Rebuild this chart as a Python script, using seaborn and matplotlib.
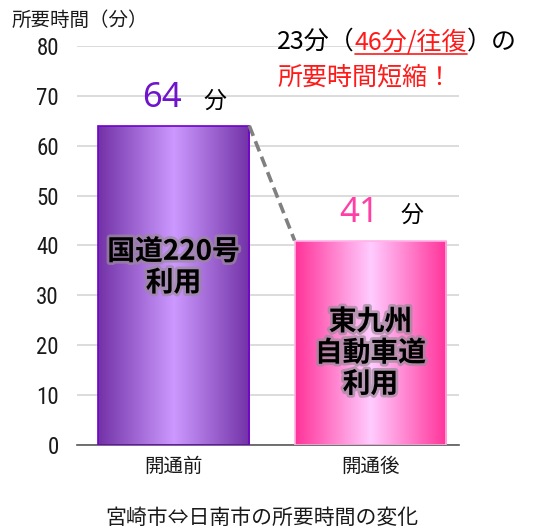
import numpy as np
import seaborn as sns
import matplotlib.pyplot as plt
import matplotlib.patheffects as pe
from matplotlib.colors import LinearSegmentedColormap

# chart data
categories = ["開通前", "開通後"]
minutes = [64, 41]
bar_notes = ["国道220号\n利用", "東九州\n自動車道\n利用"]
note_levels = [35.6, 18.4]
y_ticks = [0, 10, 20, 30, 40, 50, 60, 70, 80]

# styling
edge_dark = ["#7232a6", "#ff3399"]
centre_light = ["#cc99ff", "#ffccff"]
bar_edges = ["#7000cc", "#ffb3e6"]
value_colors = ["#7014cc", "#ff3fa6"]

sns.set_theme(style="white")
plt.rcParams["font.family"] = ["Noto Sans CJK JP", "DejaVu Sans"]

W, H = 534, 532
fig = plt.figure(figsize=(W / 100, H / 100), dpi=100)
ax = fig.add_axes([77 / W, 1 - 445 / H, (459 - 77) / W, (445 - 46) / H])

sns.barplot(x=categories, y=minutes, width=0.77, ax=ax, color="white")

# gradient fill inside each bar
for i, bar in enumerate(ax.patches):
    x0, w, h = bar.get_x(), bar.get_width(), bar.get_height()
    cmap = LinearSegmentedColormap.from_list(
        "g%d" % i, [edge_dark[i], centre_light[i], edge_dark[i]])
    grad = np.linspace(0, 1, 256).reshape(1, -1)
    im = ax.imshow(grad, cmap=cmap, aspect="auto", extent=[x0, x0 + w, 0, h],
                   zorder=2)
    im.set_clip_path(bar)
    bar.set_facecolor("none")
    bar.set_edgecolor(bar_edges[i])
    bar.set_linewidth(1.2)
    bar.set_zorder(3)

ax.set_xlim(-0.49, 1.45)
ax.set_ylim(0, 80)

# grid / spines
ax.set_yticks(y_ticks)
ax.yaxis.grid(True, color="#d9d9d9", linewidth=1.3, zorder=0)
ax.set_axisbelow(True)
for s in ["left", "right", "top"]:
    ax.spines[s].set_visible(False)
ax.spines["bottom"].set_color("#595959")
ax.spines["bottom"].set_linewidth(1.2)
ax.tick_params(axis="both", length=0)
ax.tick_params(axis="y", pad=13)
ax.tick_params(axis="x", pad=8)
for lab in ax.get_yticklabels():
    lab.set_family(["Roboto Condensed", "DejaVu Sans"])
    lab.set_fontsize(16.5)
    lab.set_color("#1a1a1a")
for lab in ax.get_xticklabels():
    lab.set_fontsize(14)
    lab.set_color("#1a1a1a")
ax.set_xlabel("")
ax.set_ylabel("")

# dashed connector between bar tops
b0, b1 = ax.patches[0], ax.patches[1]
ax.plot([b0.get_x() + b0.get_width(), b1.get_x()], [minutes[0], minutes[1]],
        color="#808080", linestyle=(0, (3, 1.6)), linewidth=2.6, zorder=4)

# value labels
for i, v in enumerate(minutes):
    ax.annotate(str(v), (i, v), xytext=(-8, 20), textcoords="offset points",
                ha="center", va="center", fontsize=25, color=value_colors[i],
                family=["Noto Sans", "DejaVu Sans"])
    ax.annotate("分", (i, v), xytext=(30, 18), textcoords="offset points",
                ha="center", va="center", fontsize=16.5, color="black")

# notes inside bars
glow = [pe.withStroke(linewidth=4, foreground="#9a8a9a", alpha=0.7)]
for i, note in enumerate(bar_notes):
    ax.text(i, note_levels[i], note, ha="center", va="center", fontsize=20,
            fontweight="bold", color="black", linespacing=1.15,
            path_effects=glow, zorder=5)

# axis title and caption
fig.text(12 / W, 1 - 20 / H, "所要時間（分）", ha="left", va="center",
         fontsize=14, color="#1a1a1a")
fig.text(262 / W, 1 - 518 / H, "宮崎市⇔日南市の所要時間の変化", ha="center",
         va="center", fontsize=15, color="#1a1a1a")

# top-right annotation with coloured / underlined part
fig.canvas.draw()
renderer = fig.canvas.get_renderer()
pieces = [("23分（", "black", False), ("46分/往復", "#ff1a1a", True),
          ("）の", "black", False)]
x_px = 277
y_px = H - 42
for txt, col, under in pieces:
    t = fig.text(x_px / W, y_px / H, txt, ha="left", va="center",
                 fontsize=18, color=col)
    bb = t.get_window_extent(renderer)
    if under:
        fig.add_artist(plt.Line2D([bb.x0 / W, bb.x1 / W],
                                  [(bb.y0 + 1) / H, (bb.y0 + 1) / H],
                                  color=col, linewidth=1.2))
    x_px = bb.x1
fig.text(277 / W, 1 - 78 / H, "所要時間短縮！", ha="left", va="center",
         fontsize=18, color="#ff1a1a")

fig.savefig("out.png", dpi=100, facecolor="white")
